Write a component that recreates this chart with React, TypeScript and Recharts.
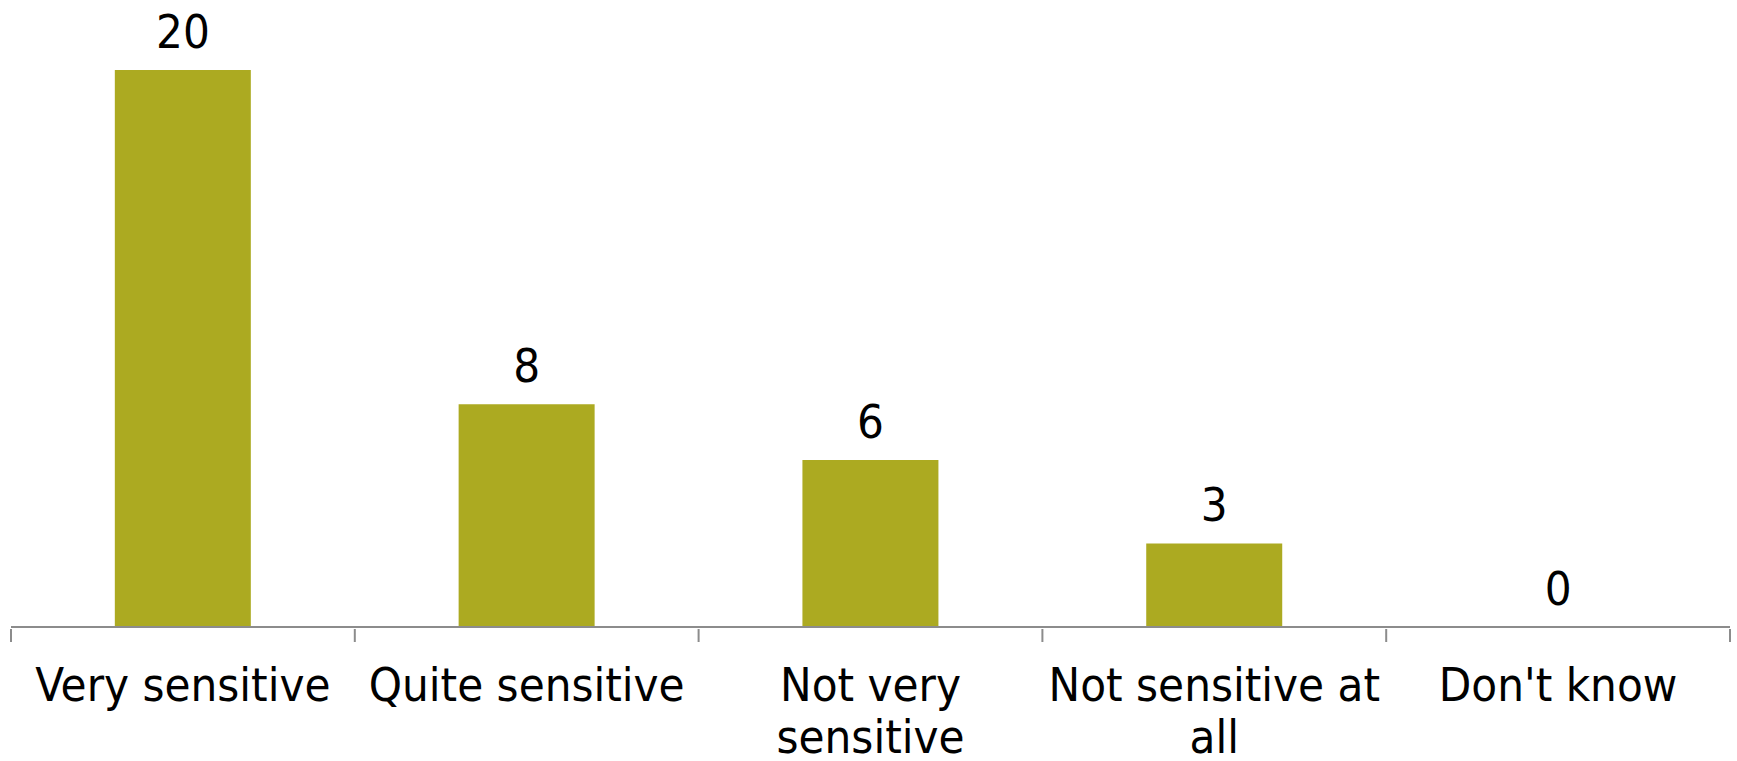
import { ComposedChart, Bar, Line, XAxis, YAxis, LabelList } from "recharts";

// Survey answers and response counts
const categories = [
  "Very sensitive",
  "Quite sensitive",
  "Not very\nsensitive",
  "Not sensitive at\nall",
  "Don't know",
];
const counts = [20, 8, 6, 3, 0];

const data = categories.map((name, i) => ({ name, count: counts[i] }));

const FONT = "'DejaVu Sans Condensed', 'DejaVu Sans', sans-serif";
const BAR_COLOR = "#ACAA21";
const AXIS_COLOR = "#8C8C8C";
const TICK_LEN = 13;

interface TickProps {
  readonly x?: number;
  readonly y?: number;
  readonly index?: number;
  readonly visibleTicksCount?: number;
  readonly payload?: { readonly value: string; readonly offset?: number };
}

// Category label plus tick marks on the band edges (Excel style)
function CategoryTick({ x = 0, y = 0, index = 0, visibleTicksCount = 0, payload }: TickProps) {
  const lines = (payload?.value ?? "").split("\n");
  const half = payload?.offset ?? 0;
  const axisY = y - TICK_LEN;
  const isLast = index === visibleTicksCount - 1;
  return (
    <g>
      <line x1={x - half} x2={x - half} y1={axisY} y2={axisY + TICK_LEN} stroke={AXIS_COLOR} strokeWidth={2} />
      {isLast && (
        <line x1={x + half} x2={x + half} y1={axisY} y2={axisY + TICK_LEN} stroke={AXIS_COLOR} strokeWidth={2} />
      )}
      <text
        x={x}
        y={y}
        textAnchor="middle"
        fill="#000"
        fontFamily={FONT}
        fontSize={47}
        style={{ fontStretch: "condensed" }}
      >
        {lines.map((line, i) => (
          <tspan key={i} x={x} dy={i === 0 ? 59 : 52}>
            {line}
          </tspan>
        ))}
      </text>
    </g>
  );
}

export default function App() {
  return (
    <div style={{ position: "absolute", left: 0, top: 0, background: "#fff" }}>
      <ComposedChart
        width={1737}
        height={761}
        data={data}
        margin={{ top: 70, right: 7, left: 11, bottom: 0 }}
        barCategoryGap="30.2%"
      >
        <XAxis
          dataKey="name"
          height={134}
          interval={0}
          tickLine={false}
          axisLine={{ stroke: AXIS_COLOR, strokeWidth: 2 }}
          tickSize={TICK_LEN}
          tick={<CategoryTick />}
        />
        <YAxis hide domain={[0, 20]} />
        <Bar dataKey="count" fill={BAR_COLOR} isAnimationActive={false} />
        {/* invisible series carrying the value labels, so zero still gets one */}
        <Line
          dataKey="count"
          stroke="none"
          dot={false}
          activeDot={false}
          legendType="none"
          isAnimationActive={false}
        >
          <LabelList
            dataKey="count"
            position="top"
            offset={22}
            fill="#000"
            fontFamily={FONT}
            fontSize={47}
            style={{ fontStretch: "condensed" }}
          />
        </Line>
      </ComposedChart>
    </div>
  );
}
